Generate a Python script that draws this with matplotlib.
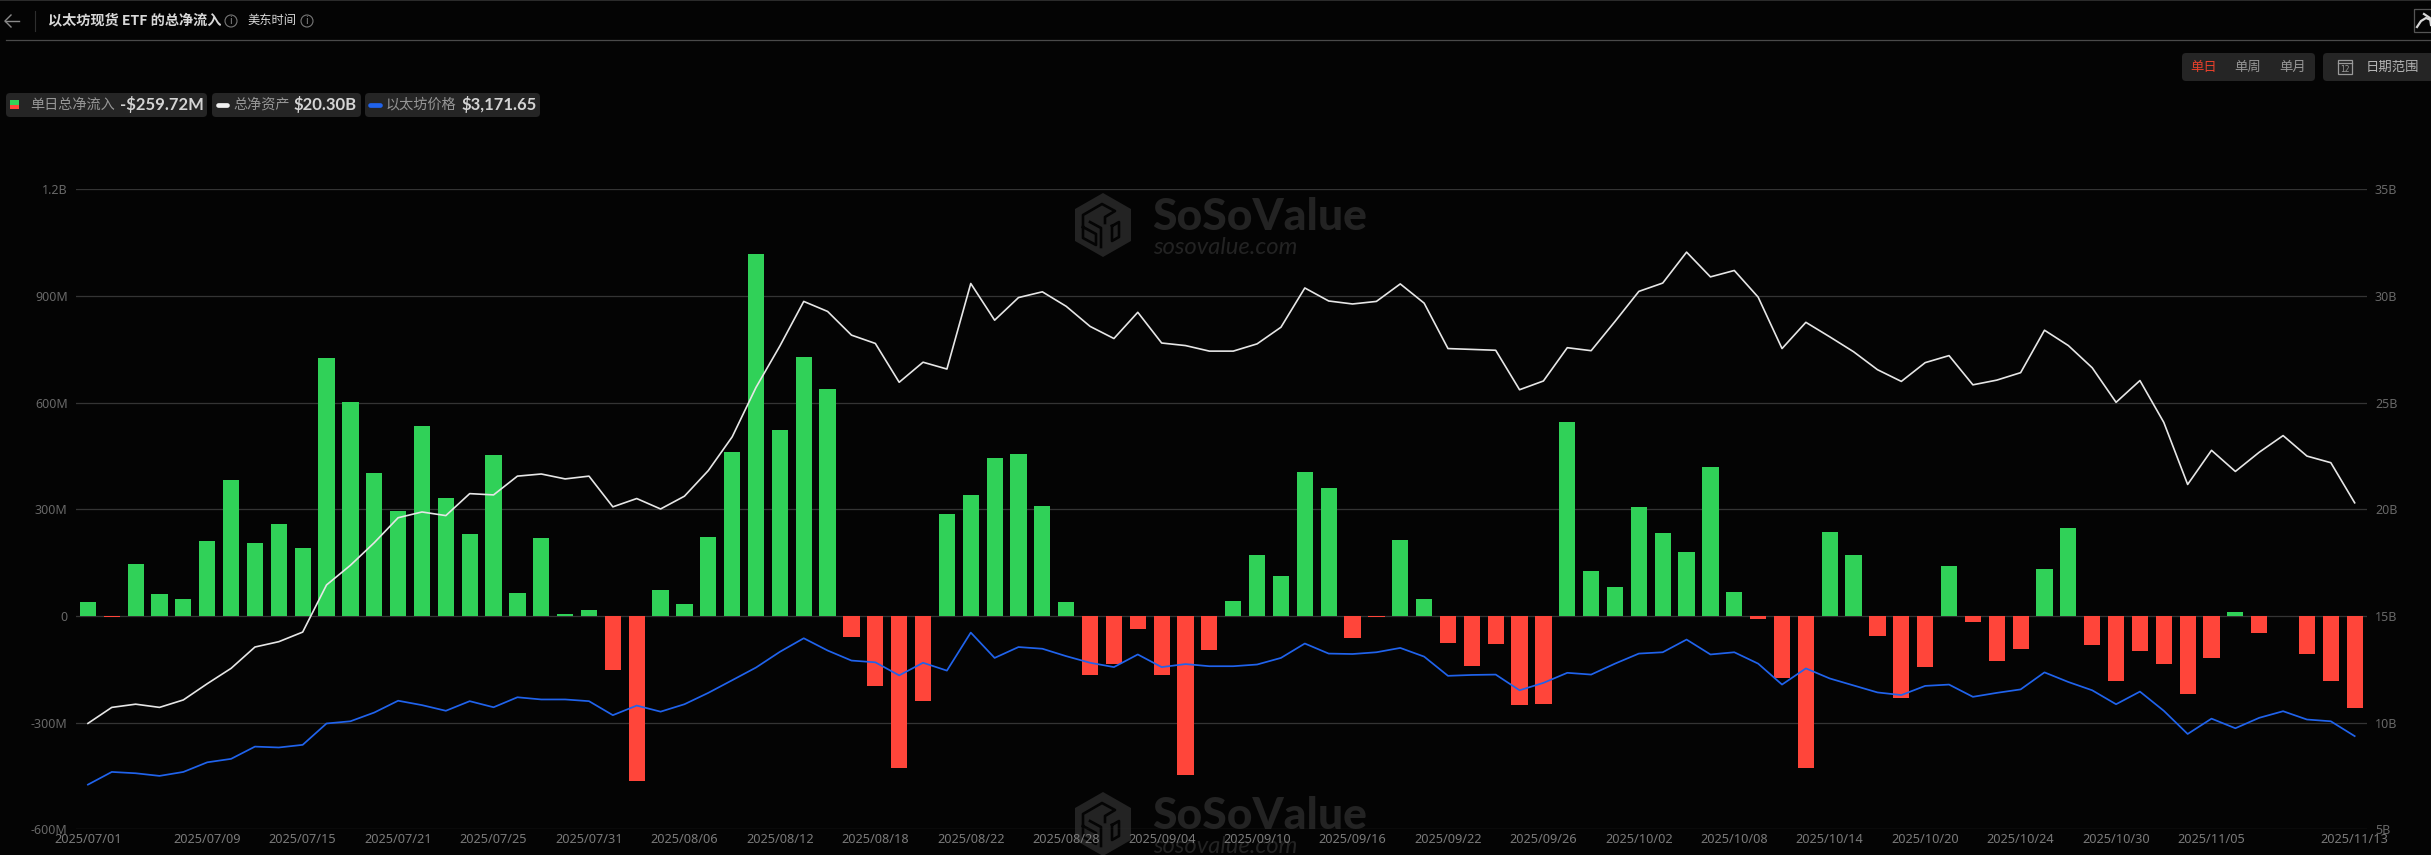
"""Ethereum spot ETF total net inflow, dark dashboard style (2431x855)."""
from matplotlib import pyplot as plt
from matplotlib.patches import Circle, FancyBboxPatch, Polygon, Rectangle

plt.rcParams['font.family'] = ['Noto Sans CJK SC', 'DejaVu Sans']

DATES = [
    '07/01', '07/02', '07/03', '07/07', '07/08', '07/09', '07/10', '07/11', '07/14', '07/15',
    '07/16', '07/17', '07/18', '07/21', '07/22', '07/23', '07/24', '07/25', '07/28', '07/29',
    '07/30', '07/31', '08/01', '08/04', '08/05', '08/06', '08/07', '08/08', '08/11', '08/12',
    '08/13', '08/14', '08/15', '08/18', '08/19', '08/20', '08/21', '08/22', '08/25', '08/26',
    '08/27', '08/28', '08/29', '09/02', '09/03', '09/04', '09/05', '09/08', '09/09', '09/10',
    '09/11', '09/12', '09/15', '09/16', '09/17', '09/18', '09/19', '09/22', '09/23', '09/24',
    '09/25', '09/26', '09/29', '09/30', '10/01', '10/02', '10/03', '10/06', '10/07', '10/08',
    '10/09', '10/10', '10/13', '10/14', '10/15', '10/16', '10/17', '10/20', '10/21', '10/22',
    '10/23', '10/24', '10/27', '10/28', '10/29', '10/30', '10/31', '11/03', '11/04', '11/05',
    '11/06', '11/07', '11/10', '11/11', '11/12', '11/13',
]
TICK_DATES = ['07/01', '07/09', '07/15', '07/21', '07/25', '07/31', '08/06', '08/12', '08/18',
              '08/22', '08/28', '09/04', '09/10', '09/16', '09/22', '09/26', '10/02', '10/08',
              '10/14', '10/20', '10/24', '10/30', '11/05', '11/13']

# daily net flow, $M
FLOW = [
    39, -2, 147, 61, 47, 211, 383, 204, 258, 192,
    726, 602, 403, 296, 533, 332, 231, 452, 65, 219,
    6, 17, -152, -464, 74, 34, 222, 461, 1018, 523,
    728, 639, -59, -197, -429, -240, 287, 340, 443, 455,
    308, 38, -165, -136, -38, -167, -447, -97, 43, 171,
    112, 405, 359, -61, -2, 213, 47, -75, -140, -79,
    -251, -247, 545, 127, 80, 307, 232, 181, 419, 68,
    -9, -176, -428, 236, 170, -58, -232, -145, 141, -18,
    -128, -93, 133, 246, -81, -184, -98, -136, -219, -118,
    12, -47, 0, -107, -184, -259.72,
]
# total net assets, $B
ASSETS = [
    9.96, 10.71, 10.86, 10.71, 11.06, 11.82, 12.54, 13.54, 13.79, 14.24,
    16.45, 17.37, 18.43, 19.60, 19.87, 19.70, 20.73, 20.67, 21.55, 21.65,
    21.42, 21.55, 20.11, 20.50, 20.01, 20.61, 21.81, 23.39, 25.71, 27.65,
    29.74, 29.27, 28.16, 27.77, 25.95, 26.89, 26.57, 30.58, 28.86, 29.92,
    30.19, 29.51, 28.57, 28.00, 29.23, 27.79, 27.67, 27.41, 27.41, 27.75,
    28.53, 30.37, 29.76, 29.62, 29.74, 30.56, 29.66, 27.53, 27.49, 27.45,
    25.60, 26.01, 27.57, 27.43, 28.80, 30.21, 30.60, 32.05, 30.89, 31.19,
    29.94, 27.53, 28.76, 28.08, 27.38, 26.54, 25.99, 26.87, 27.20, 25.83,
    26.05, 26.40, 28.39, 27.67, 26.63, 25.01, 26.03, 24.07, 21.16, 22.76,
    21.77, 22.67, 23.45, 22.49, 22.18, 20.30,
]
# ETH price, $
PRICE = [
    2400, 2602, 2581, 2539, 2602, 2755, 2810, 3005, 2991, 3033,
    3373, 3408, 3547, 3735, 3665, 3575, 3728, 3631, 3790, 3755,
    3755, 3728, 3505, 3658, 3561, 3679, 3860, 4061, 4263, 4513,
    4729, 4534, 4374, 4346, 4138, 4339, 4214, 4819, 4416, 4589,
    4562, 4444, 4339, 4270, 4471, 4270, 4318, 4284, 4284, 4311,
    4416, 4645, 4485, 4478, 4506, 4575, 4437, 4131, 4145, 4151,
    3901, 4019, 4179, 4151, 4325, 4485, 4506, 4708, 4471, 4506,
    4325, 3992, 4249, 4089, 3978, 3867, 3825, 3971, 3992, 3797,
    3860, 3915, 4186, 4033, 3901, 3679, 3880, 3575, 3206, 3450,
    3297, 3463, 3568, 3436, 3408, 3171.65,
]

FLOW_TICKS = [-600, -300, 0, 300, 600, 900, 1200]
FLOW_LABELS = ['-600M', '-300M', '0', '300M', '600M', '900M', '1.2B']
ASSET_TICKS = [5, 10, 15, 20, 25, 30, 35]
ASSET_LABELS = ['5B', '10B', '15B', '20B', '25B', '30B', '35B']

BG = '#040404'
CHIP = '#252525'
MARK = '#232323'
GREEN = '#30D158'
RED = '#FF453A'
BLUE = '#2063EC'
WHITE = '#E6E6E6'
TICK_C = '#686868'
W, H = 2431, 855


def chip(ui, x0, y0, x1, y1):
    ui.add_patch(FancyBboxPatch((x0 + 4, y0 + 4), x1 - x0 - 8, y1 - y0 - 8,
                                boxstyle='round,pad=4,rounding_size=4', fc=CHIP, ec='none'))


def info_icon(ui, x, y):
    ui.add_patch(Circle((x, y), 6, fc='none', ec='#777777', lw=0.8))
    ui.text(x, y, 'i', color='#888888', fontsize=7, ha='center', va='center', family='DejaVu Sans')


def watermark(ui, dy):
    cx, cy = 1103, 225 + dy
    hexagon = [(cx, cy - 32), (cx + 28, cy - 16), (cx + 28, cy + 16),
               (cx, cy + 32), (cx - 28, cy + 16), (cx - 28, cy - 16)]
    ui.add_patch(Polygon(hexagon, closed=True, fc=MARK, ec='none', zorder=1))
    # dark channels of the cube logo
    channels = [
        ([-20, -20, -1, 12, 2, 2], [2, -10, -21, -14, -8, -2]),
        ([-20, -7, -7, -20, -20], [2, 9, 20, 13, 2]),
        ([-13, -2, -2], [-3, 3, 22]),
        ([9, 16, 16, 9, 9], [1, -3, 12, 16, 1]),
    ]
    for xs_c, ys_c in channels:
        ui.plot([cx + v for v in xs_c], [cy + v for v in ys_c], color=BG, lw=1.9, zorder=1)
    ui.text(1152, 217 + dy, 'SoSoValue', color=MARK, fontsize=32, weight='black', family='Lato',
            ha='left', va='center', zorder=1)
    ui.text(1153, 247 + dy, 'sosovalue.com', color=MARK, fontsize=17.2, style='italic', family='Lato',
            ha='left', va='center', zorder=1)


fig = plt.figure(figsize=(W / 100, H / 100), dpi=100, facecolor=BG)

# page chrome, drawn in pixel coordinates
ui = fig.add_axes([0, 0, 1, 1])
ui.set_xlim(0, W)
ui.set_ylim(H, 0)
ui.axis('off')

ui.plot([0, W], [0.5, 0.5], color='#333333', lw=1.2)
ui.plot([6, W], [40, 40], color='#4a4a4a', lw=0.9)
ui.plot([35, 35], [11, 31], color='#2e2e2e', lw=0.8)
ui.plot([5, 19], [21, 21], color='#8a8a8a', lw=1)
ui.plot([11, 5, 11], [15, 21, 27], color='#8a8a8a', lw=1)
ui.text(48, 20.5, '以太坊现货 ETF 的总净流入', color='#d8d8d8', fontsize=10.2, weight='bold',
        ha='left', va='center')
info_icon(ui, 231, 21)
ui.text(247, 20.5, '美东时间', color='#d8d8d8', fontsize=8.8, ha='left', va='center')
info_icon(ui, 307, 21)

chip(ui, 6, 93, 207, 117)
ui.add_patch(Rectangle((10, 100.5), 8.5, 4.5, fc=GREEN, ec='none'))
ui.add_patch(Rectangle((10, 105), 8.5, 4.5, fc=RED, ec='none'))
ui.text(30, 104.5, '单日总净流入', color='#969696', fontsize=10.2, ha='left', va='center')
ui.text(120, 104.5, '-$259.72M', color='#d4d4d4', fontsize=12, weight='bold', family='Lato',
        ha='left', va='center')
chip(ui, 212, 93, 361, 117)
ui.plot([218, 227], [105, 105], color='#f0f0f0', lw=3.4, solid_capstyle='round')
ui.text(233, 104.5, '总净资产', color='#969696', fontsize=10.2, ha='left', va='center')
ui.text(294, 104.5, '$20.30B', color='#d4d4d4', fontsize=12, weight='bold', family='Lato',
        ha='left', va='center')
chip(ui, 365, 93, 540, 117)
ui.plot([370, 380], [105, 105], color=BLUE, lw=3.4, solid_capstyle='round')
ui.text(386, 104.5, '以太坊价格', color='#969696', fontsize=10.2, ha='left', va='center')
ui.text(461, 104.5, '$3,171.65', color='#d4d4d4', fontsize=12, weight='bold', family='Lato',
        ha='left', va='center')

chip(ui, 2182, 53, 2315, 81)
ui.text(2204, 66.5, '单日', color='#E5402B', fontsize=9.6, ha='center', va='center')
ui.text(2248, 66.5, '单周', color='#969696', fontsize=9.6, ha='center', va='center')
ui.text(2293, 66.5, '单月', color='#969696', fontsize=9.6, ha='center', va='center')
chip(ui, 2323, 53, 2445, 81)
ui.add_patch(Rectangle((2338, 60), 14, 14, fc='none', ec='#9a9a9a', lw=0.9))
ui.plot([2338, 2352], [63, 63], color='#9a9a9a', lw=0.9)
ui.text(2345, 69, '12', color='#9a9a9a', fontsize=5.5, ha='center', va='center', family='DejaVu Sans')
ui.text(2392, 66.5, '日期范围', color='#b4b4b4', fontsize=9.6, weight='medium', ha='center', va='center')
ui.add_patch(Rectangle((2413.5, 9.5), 20, 23, fc='none', ec='#555555', lw=0.9))
ui.plot([2417, 2421, 2426, 2431], [27, 21, 18, 20], color='#d8d8d8', lw=1.6)
ui.plot([2424, 2430, 2431], [14, 18, 25], color='#d8d8d8', lw=1.6)

watermark(ui, 0)
watermark(ui, 599)

# chart area
ax = fig.add_axes([76 / W, 1 - 829.2 / H, (2366.6 - 76) / W, (829.2 - 189.2) / H])
ax.patch.set_alpha(0)
xs = list(range(len(DATES)))
bar_colors = [GREEN if v >= 0 else RED for v in FLOW]
ax.bar(xs, FLOW, width=0.68, color=bar_colors, zorder=3, linewidth=0)
ax.set_xlim(-0.5, len(DATES) - 0.5)
ax.set_ylim(-600, 1200)
ax.set_yticks(FLOW_TICKS, FLOW_LABELS)
ax.set_xticks([DATES.index(d) for d in TICK_DATES], ['2025/' + d for d in TICK_DATES])
ax.grid(axis='y', color='#343434', lw=0.9, zorder=0)
ax.tick_params(axis='y', length=0, pad=6, labelsize=9, labelcolor=TICK_C)
ax.tick_params(axis='x', length=0, pad=3, labelsize=9.2, labelcolor='#7a7a7a')
for spine in ax.spines.values():
    spine.set_visible(False)

ax_assets = ax.twinx()
ax_assets.plot(xs, ASSETS, color=WHITE, lw=1.2, zorder=4)
ax_assets.set_ylim(5, 35)
ax_assets.set_yticks(ASSET_TICKS, ASSET_LABELS)
ax_assets.tick_params(axis='y', length=0, pad=6, labelsize=9, labelcolor=TICK_C)

# price has its own scale, axis not shown in the original
ax_price = ax.twinx()
ax_price.plot(xs, PRICE, color=BLUE, lw=1.25, zorder=4)
ax_price.set_ylim(1691, 11873)
ax_price.axis('off')

for a in (ax_assets, ax_price):
    for spine in a.spines.values():
        spine.set_visible(False)

for lab in ax.get_xticklabels() + ax.get_yticklabels() + ax_assets.get_yticklabels():
    lab.set_family(['Noto Sans', 'DejaVu Sans'])

fig.savefig('out.png', dpi=100, facecolor=BG)
plt.close(fig)
